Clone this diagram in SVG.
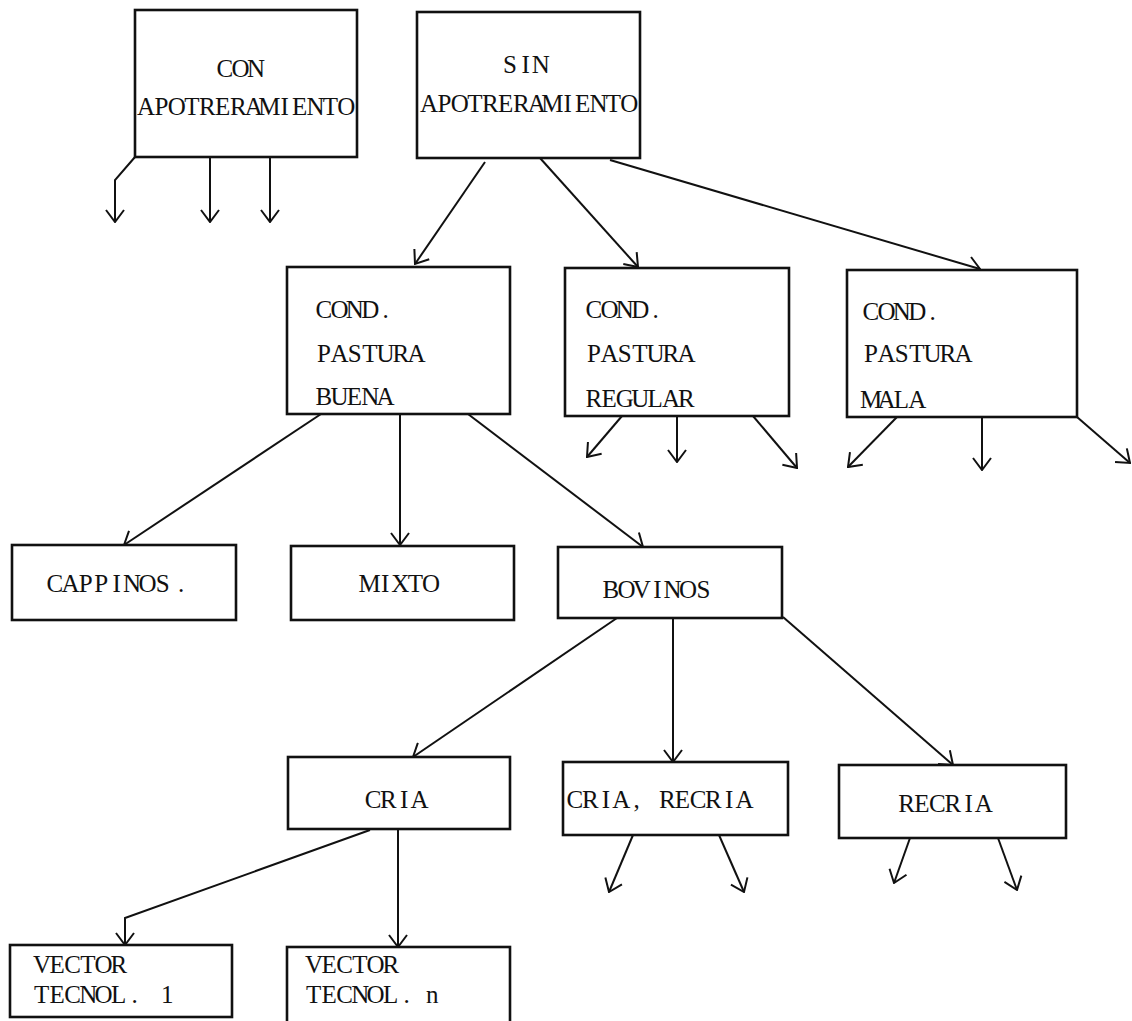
<svg xmlns="http://www.w3.org/2000/svg" width="1132" height="1021" viewBox="0 0 1132 1021">
<defs>
<marker id="ah" markerUnits="userSpaceOnUse" viewBox="0 0 14 20" refX="13" refY="10" markerWidth="14" markerHeight="20" orient="auto">
<path d="M1,1 L13,10 L1,19" fill="none" stroke="#111" stroke-width="2"/>
</marker>
<style>
.box{fill:#fff;stroke:#111;stroke-width:2.6}
.t{font-family:"Liberation Serif","Times New Roman",serif;font-size:25px;fill:#111}
.e{fill:none;stroke:#111;stroke-width:2;marker-end:url(#ah)}
</style>
</defs>
<rect width="1132" height="1021" fill="#fff"/>
<g id="connectors">
<path class="e" d="M135,157 L115,180 L115,222"/>
<path class="e" d="M210,157 V222"/>
<path class="e" d="M270,157 V222"/>
<path class="e" d="M485,162 L415,264"/>
<path class="e" d="M540,158 L638,267"/>
<path class="e" d="M610,160 L980,269"/>
<path class="e" d="M622,416 L587,457"/>
<path class="e" d="M677,416 V462"/>
<path class="e" d="M753,416 L797,468"/>
<path class="e" d="M897,417 L848,467"/>
<path class="e" d="M982,417 V470"/>
<path class="e" d="M1077,417 L1130,463"/>
<path class="e" d="M321,414 L124,545"/>
<path class="e" d="M400,414 V545"/>
<path class="e" d="M468,414 L643,547"/>
<path class="e" d="M617,618 L413,757"/>
<path class="e" d="M673,618 V762"/>
<path class="e" d="M783,617 L953,765"/>
<path class="e" d="M633,835 L609,892"/>
<path class="e" d="M719,835 L744,892"/>
<path class="e" d="M910,838 L894,883"/>
<path class="e" d="M998,838 L1017,890"/>
<path class="e" d="M370,830 L125,918 L125,945"/>
<path class="e" d="M398,828 V947"/>
</g>
<g id="con">
<rect class="box" x="135" y="10" width="222" height="147"/>
<text class="t" x="216.5 231.5 247" y="77">CON</text>
<text class="t" x="137 154.4 167.8 184.2 199.1 215 229.9 244.8 258.2 280.6 292 306.4 322.8 337.2" y="115">APOTRERAMIENTO</text>
</g>
<g id="sin">
<rect class="box" x="417" y="12" width="223" height="146"/>
<text class="t" x="503 521.4 531.8" y="73">SIN</text>
<text class="t" x="420 437.4 450.8 467.2 482.1 498 512.9 527.8 541.2 563.6 575 589.4 605.8 620.2" y="112">APOTRERAMIENTO</text>
</g>
<g id="buena">
<rect class="box" x="287" y="267" width="223" height="147"/>
<text class="t" x="315.5 330.4 345.8 361.2 382.6" y="318">COND.</text>
<text class="t" x="317 330.4 347.8 362.2 376.6 392.5 407.4" y="362">PASTURA</text>
<text class="t" x="315.5 330.4 346.8 361.2 376.6" y="405">BUENA</text>
</g>
<g id="regular">
<rect class="box" x="565" y="268" width="224" height="148"/>
<text class="t" x="585.5 600.4 615.8 631.2 652.6" y="318">COND.</text>
<text class="t" x="587 600.4 617.8 632.2 646.6 662.5 677.4" y="362">PASTURA</text>
<text class="t" x="585.5 601.4 615.8 631.2 647.6 662 677.9" y="407">REGULAR</text>
</g>
<g id="mala">
<rect class="box" x="847" y="270" width="230" height="147"/>
<text class="t" x="862.5 877.4 892.8 908.2 929.6" y="320">COND.</text>
<text class="t" x="864 877.4 894.8 909.2 923.6 939.5 954.4" y="362">PASTURA</text>
<text class="t" x="860 877.4 893.8 908.2" y="408">MALA</text>
</g>
<g id="cappinos">
<rect class="box" x="12" y="545" width="224" height="75"/>
<text class="t" x="46.5 61.4 78.8 94.2 112.6 123 138.4 155.8 170 178" y="592">CAPPINOS .</text>
</g>
<g id="mixto">
<rect class="box" x="291" y="546" width="223" height="74"/>
<text class="t" x="358.5 380.9 391.3 407.7 422.1" y="592">MIXTO</text>
</g>
<g id="bovinos">
<rect class="box" x="558" y="547" width="224" height="71"/>
<text class="t" x="602.5 617.4 632.8 653.2 663.6 679 696.4" y="598">BOVINOS</text>
</g>
<g id="cria">
<rect class="box" x="288" y="757" width="222" height="72"/>
<text class="t" x="364.7 380.1 400 410.4" y="808">CRIA</text>
</g>
<g id="criarecria">
<rect class="box" x="563" y="762" width="225" height="73"/>
<text class="t" x="566.5 581.9 601.8 612.2 633.6 644 658.9 674.8 689.7 705.1 725 735.4" y="808">CRIA, RECRIA</text>
</g>
<g id="recria">
<rect class="box" x="839" y="765" width="227" height="73"/>
<text class="t" x="898.3 914.2 929.1 944.5 964.4 974.8" y="812">RECRIA</text>
</g>
<g id="vector1">
<rect class="box" x="10" y="945" width="222" height="72"/>
<text class="t" x="33 49.4 64.3 80.2 94.6 110.5" y="973">VECTOR</text>
<text class="t" x="34 49.4 64.3 79.2 94.6 111 131.4 142 161" y="1003">TECNOL. 1</text>
</g>
<g id="vectorn">
<rect class="box" x="287" y="947" width="223" height="80"/>
<text class="t" x="305 321.4 336.3 352.2 366.6 382.5" y="973">VECTOR</text>
<text class="t" x="306 321.4 336.3 351.2 366.6 383 403.4 414 426" y="1003">TECNOL. n</text>
</g>
</svg>
